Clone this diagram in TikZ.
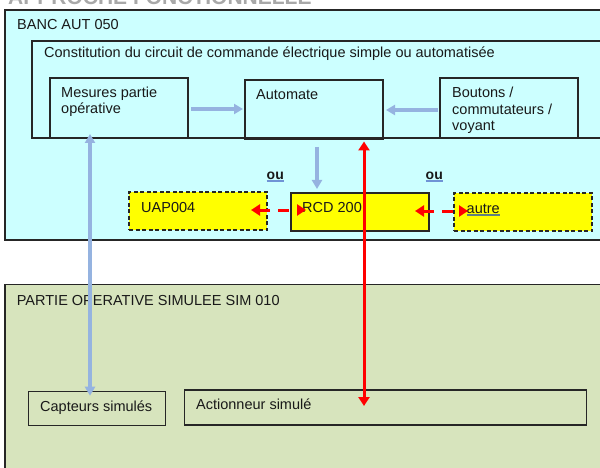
\documentclass[tikz,border=0pt]{standalone}
\usepackage{fontspec}
\setmainfont{Liberation Sans}
\usetikzlibrary{arrows.meta}
\definecolor{cyanbg}{HTML}{CCFFFF}
\definecolor{greenbg}{HTML}{D7E4BD}
\definecolor{linkblue}{HTML}{95B3E0}
\definecolor{ulblue}{HTML}{6F93D6}
\definecolor{boxyellow}{HTML}{FFFF00}
\definecolor{titlegray}{HTML}{A8A8A8}
\definecolor{edge}{HTML}{262626}
\begin{document}
\begin{tikzpicture}[x=1pt,y=-1pt,
  font=\fontsize{14.5}{17}\selectfont,
  panel/.style={draw=edge, line width=1.3pt},
  box/.style={draw=edge, line width=1.1pt, anchor=north west, inner sep=0pt, outer sep=0pt},
  dbox/.style={box, dashed, dash pattern=on 4pt off 2.5pt},
  lbl/.style={anchor=base west, inner sep=0pt, text=black!90},
  bluearr/.style={draw=linkblue, line width=3.2pt, -{Triangle[length=9pt,width=10pt]}},
  blueboth/.style={bluearr, {Triangle[length=9pt,width=10pt]}-{Triangle[length=9pt,width=10pt]}},
  redboth/.style={draw=red, line width=3pt, {Triangle[length=9pt,width=11pt]}-{Triangle[length=9pt,width=11pt]}},
  reddash/.style={redboth, dash pattern=on 11pt off 8pt},
]
\useasboundingbox (0,0) rectangle (600,468);

% cropped title
\node[anchor=base west, inner sep=0pt, text=titlegray, font=\fontsize{21}{24}\selectfont\bfseries] (title) at (8,5) {APPROCHE FONCTIONNELLE};

% upper panel
\path[panel, fill=cyanbg] (5,10) rectangle (606,240);
\node[lbl] (banc) at (17,30) {BANC AUT 050};
\path[draw=edge, line width=1.1pt] (32,41) rectangle (606,138);
\node[lbl] (const) at (44,57.5) {Constitution du circuit de commande électrique simple ou automatisée};

\node[box, minimum width=138pt, minimum height=60pt] (mes) at (50,78) {};
\node[lbl] (mes1) at (61,97.3) {Mesures partie};
\node[lbl] (mes2) at (61,114) {opérative};

\node[box, minimum width=138pt, minimum height=59pt] (aut) at (245,80) {};
\node[lbl] (autt) at (256,99.5) {Automate};

\node[box, minimum width=138pt, minimum height=60pt] (bout) at (440,78) {};
\node[lbl] (bou1) at (452,97.5) {Boutons /};
\node[lbl] (bou2) at (452,114.5) {commutateurs /};
\node[lbl] (bou3) at (452,131) {voyant};

\node[dbox, fill=boxyellow, minimum width=138pt, minimum height=38pt] (uap) at (129,192) {};
\node[lbl] (uapt) at (141,212.7) {UAP004};
\node[box, fill=boxyellow, minimum width=138pt, minimum height=38pt] (rcd) at (291,193) {};
\node[lbl] (rcdt) at (302,212.7) {RCD 200};
\node[dbox, fill=boxyellow, minimum width=138pt, minimum height=38pt] (autre) at (454,193) {};
\node[lbl] (autret) at (466.5,213) {autre};
\draw[gray!75!teal, line width=1.6pt] ([yshift=-2pt]autret.base west) -- ([yshift=-2pt]autret.base east);

\node[lbl, font=\fontsize{14}{17}\selectfont\bfseries] (ou1) at (266.5,179) {ou};
\draw[ulblue, line width=1.6pt] ([yshift=-2.2pt]ou1.base west) -- ([yshift=-2.2pt]ou1.base east);
\node[lbl, font=\fontsize{14}{17}\selectfont\bfseries] (ou2) at (425.5,179) {ou};
\draw[ulblue, line width=1.6pt] ([yshift=-2.2pt]ou2.base west) -- ([yshift=-2.2pt]ou2.base east);

% lower panel
\path[panel, fill=greenbg] (5,284.5) rectangle (606,472);
\node[lbl] (part) at (16.7,305) {PARTIE OPERATIVE SIMULEE SIM 010};
\node[box, minimum width=137pt, minimum height=34pt] (cap) at (28.3,391.7) {};
\node[lbl] (capt) at (40,411.7) {Capteurs simulés};
\node[box, minimum width=402pt, minimum height=35pt] (act) at (184.3,390) {};
\node[lbl] (actt) at (196,409.5) {Actionneur simulé};

% connectors
\coordinate (bv) at (90,0);
\coordinate (rv) at (364,0);
\coordinate (dv) at (317,0);
\draw[bluearr, shorten <=3pt, shorten >=2pt] ([yshift=-1pt]mes.east) -- ([yshift=-1pt]mes.east -| aut.west);
\draw[bluearr, shorten <=2pt, shorten >=3pt] ([yshift=-2pt]bout.west) -- ([yshift=-2pt]bout.west -| aut.east);
\draw[bluearr, shorten <=8pt, shorten >=4pt] (dv |- aut.south) -- (dv |- rcd.north);
\draw[blueboth, shorten <=-4pt, shorten >=-4pt] (bv |- mes.south) -- (bv |- cap.north);
\draw[redboth, shorten <=2.5pt, shorten >=-16pt] (rv |- aut.south) -- (rv |- act.north);
\draw[reddash, shorten <=-16pt, shorten >=-15pt] ([yshift=1pt]uap.east) -- ([yshift=1pt]uap.east -| rcd.west);
\draw[reddash, shorten <=-14pt, shorten >=-14pt] ([yshift=1pt]rcd.east) -- ([yshift=1pt]rcd.east -| autre.west);
\end{tikzpicture}
\end{document}
